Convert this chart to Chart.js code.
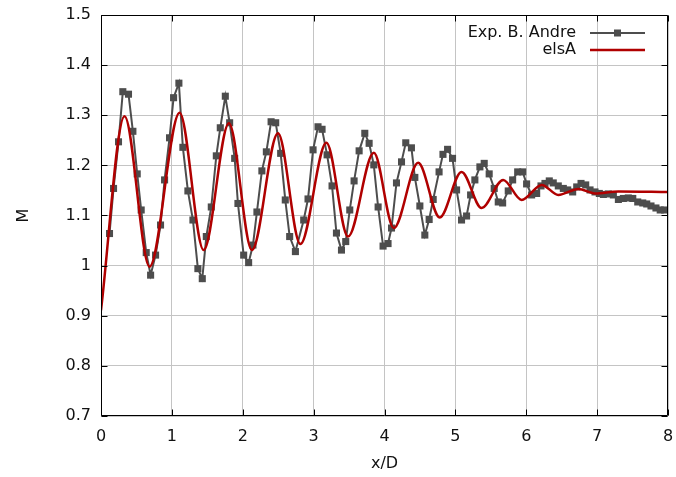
<!DOCTYPE html>
<html><head><meta charset="utf-8">
<script src="https://cdn.jsdelivr.net/npm/chart.js@4/dist/chart.umd.min.js"></script>
<style>html,body{margin:0;padding:0;background:#fff;}#wrap{width:676px;height:477px;}</style>
</head><body><div id="wrap"><canvas id="c" width="676" height="477"></canvas></div>
<script>
const xTicks = [0, 1, 2, 3, 4, 5, 6, 7, 8];
const yTicks = [0.7, 0.8, 0.9, 1, 1.1, 1.2, 1.3, 1.4, 1.5];
const seriesNames = ['Exp. B. Andre', 'elsA'];
const xTitle = 'x/D';
const yTitle = 'M';

const expX = [0.12,0.177,0.247,0.308,0.388,0.45,0.511,0.567,0.638,0.70,0.77,0.84,0.897,0.967,1.024,1.099,1.155,1.226,1.297,1.367,1.429,1.486,1.556,1.627,1.683,1.754,1.815,1.886,1.932,2.013,2.083,2.144,2.20,2.27,2.333,2.40,2.465,2.535,2.60,2.662,2.743,2.86,2.921,2.992,3.062,3.119,3.19,3.26,3.322,3.393,3.453,3.51,3.571,3.642,3.722,3.783,3.849,3.91,3.98,4.05,4.099,4.169,4.24,4.30,4.38,4.428,4.499,4.569,4.63,4.687,4.77,4.825,4.89,4.96,5.017,5.087,5.158,5.215,5.275,5.346,5.407,5.477,5.548,5.605,5.667,5.746,5.808,5.879,5.95,6.005,6.076,6.147,6.208,6.264,6.325,6.381,6.452,6.523,6.585,6.655,6.712,6.773,6.839,6.90,6.97,7.031,7.088,7.158,7.229,7.30,7.37,7.44,7.503,7.573,7.644,7.70,7.76,7.83,7.89,7.95];
const expM = [1.064,1.154,1.247,1.347,1.342,1.268,1.183,1.111,1.026,0.981,1.021,1.081,1.171,1.255,1.335,1.364,1.236,1.149,1.091,0.994,0.974,1.058,1.117,1.219,1.275,1.338,1.285,1.214,1.124,1.021,1.006,1.041,1.107,1.189,1.227,1.287,1.285,1.224,1.131,1.058,1.028,1.091,1.133,1.231,1.277,1.272,1.221,1.159,1.065,1.031,1.048,1.111,1.169,1.229,1.264,1.244,1.201,1.117,1.039,1.044,1.075,1.165,1.207,1.245,1.235,1.176,1.119,1.061,1.092,1.132,1.187,1.222,1.232,1.214,1.151,1.091,1.099,1.141,1.171,1.197,1.204,1.183,1.154,1.127,1.125,1.149,1.171,1.187,1.187,1.163,1.141,1.144,1.159,1.164,1.169,1.165,1.159,1.154,1.151,1.147,1.157,1.164,1.161,1.151,1.147,1.144,1.142,1.143,1.141,1.132,1.134,1.135,1.134,1.127,1.125,1.123,1.119,1.115,1.111,1.111];

const elsaX = [0,0.332,0.685,1.109,1.448,1.805,2.13,2.497,2.813,3.18,3.486,3.849,4.131,4.475,4.78,5.087,5.37,5.675,5.935,6.218,6.452,6.735,6.97,7.3,8.0];
const elsaM = [0.911,1.298,0.998,1.305,1.031,1.284,1.031,1.264,1.043,1.245,1.058,1.225,1.075,1.205,1.096,1.187,1.115,1.171,1.131,1.161,1.141,1.153,1.144,1.148,1.147];

const FONT = {family: "'DejaVu Sans', sans-serif", size: 16};
const TXT = '#111';
const GRAY = '#4d4d4d';
const RED = '#b00000';
const GRID = '#c4c4c4';

const framePlugin = {
  id: 'frame',
  afterDatasetsDraw(chart) {
    const {ctx, chartArea: a, scales: {x, y}} = chart;
    ctx.save();
    ctx.strokeStyle = '#000';
    ctx.lineWidth = 1;
    const L = Math.round(a.left) + 0.5, R = Math.round(a.right) - 0.5;
    const T = Math.round(a.top) + 0.5, B = Math.round(a.bottom) - 0.5;
    ctx.beginPath();
    ctx.rect(L, T, R - L, B - T);
    const tl = 6;
    xTicks.forEach(v => {
      const px = Math.round(x.getPixelForValue(v)) + 0.5;
      ctx.moveTo(px, B); ctx.lineTo(px, B - tl);
      ctx.moveTo(px, T); ctx.lineTo(px, T + tl);
    });
    yTicks.forEach(v => {
      const py = Math.round(y.getPixelForValue(v)) + 0.5;
      ctx.moveTo(L, py); ctx.lineTo(L + tl, py);
      ctx.moveTo(R, py); ctx.lineTo(R - tl, py);
    });
    ctx.stroke();

    // legend
    ctx.font = FONT.size + 'px ' + FONT.family;
    ctx.fillStyle = TXT;
    ctx.textAlign = 'right';
    ctx.textBaseline = 'middle';
    const rows = [33, 50];
    const tx = 576, l0 = 590, l1 = 645;
    ctx.fillText(seriesNames[0], tx, rows[0]);
    ctx.fillText(seriesNames[1], tx, rows[1]);
    ctx.strokeStyle = GRAY; ctx.lineWidth = 2;
    ctx.beginPath(); ctx.moveTo(l0, rows[0]); ctx.lineTo(l1, rows[0]); ctx.stroke();
    ctx.fillStyle = GRAY;
    ctx.fillRect((l0 + l1) / 2 - 3.5, rows[0] - 3.5, 7, 7);
    ctx.strokeStyle = RED; ctx.lineWidth = 2.5;
    ctx.beginPath(); ctx.moveTo(l0, rows[1]); ctx.lineTo(l1, rows[1]); ctx.stroke();
    ctx.restore();
  }
};

new Chart(document.getElementById('c'), {
  type: 'line',
  data: {
    datasets: [
      {
        label: seriesNames[1],
        data: elsaX.map((v, i) => ({x: v, y: elsaM[i]})),
        borderColor: RED, borderWidth: 2.5, pointRadius: 0,
        cubicInterpolationMode: 'monotone', order: 0
      },
      {
        label: seriesNames[0],
        data: expX.map((v, i) => ({x: v, y: expM[i]})),
        borderColor: GRAY, backgroundColor: GRAY, borderWidth: 2,
        pointStyle: 'rect', pointRadius: 5, pointBorderWidth: 0,
        pointBackgroundColor: GRAY, tension: 0, order: 1
      }
    ]
  },
  options: {
    responsive: false, animation: false, devicePixelRatio: 1,
    layout: {padding: {top: 15, right: 8, left: 0, bottom: 0}},
    plugins: {legend: {display: false}, tooltip: {enabled: false}},
    scales: {
      x: {
        type: 'linear', min: 0, max: 8,
        afterBuildTicks: s => { s.ticks = xTicks.map(v => ({value: v})); },
        afterFit: s => { s.height = 61; s.paddingLeft = 0; s.paddingRight = 0; },
        ticks: {font: FONT, color: TXT, padding: 11, maxRotation: 0, autoSkip: false, callback: v => String(v)},
        grid: {color: GRID, lineWidth: 1, drawTicks: false},
        border: {display: false},
        title: {display: true, text: xTitle, font: FONT, color: TXT, padding: {top: 0, bottom: 4}}
      },
      y: {
        type: 'linear', min: 0.7, max: 1.5,
        afterBuildTicks: s => { s.ticks = yTicks.map(v => ({value: v})); },
        afterFit: s => { s.width = 101; s.paddingTop = 0; s.paddingBottom = 0; },
        ticks: {font: FONT, color: TXT, padding: 10, autoSkip: false, callback: v => String(+v.toFixed(1))},
        grid: {color: GRID, lineWidth: 1, drawTicks: false},
        border: {display: false},
        title: {display: true, text: yTitle, font: FONT, color: TXT, padding: {top: 14, bottom: 0}}
      }
    }
  },
  plugins: [framePlugin]
});
</script>
</body></html>
